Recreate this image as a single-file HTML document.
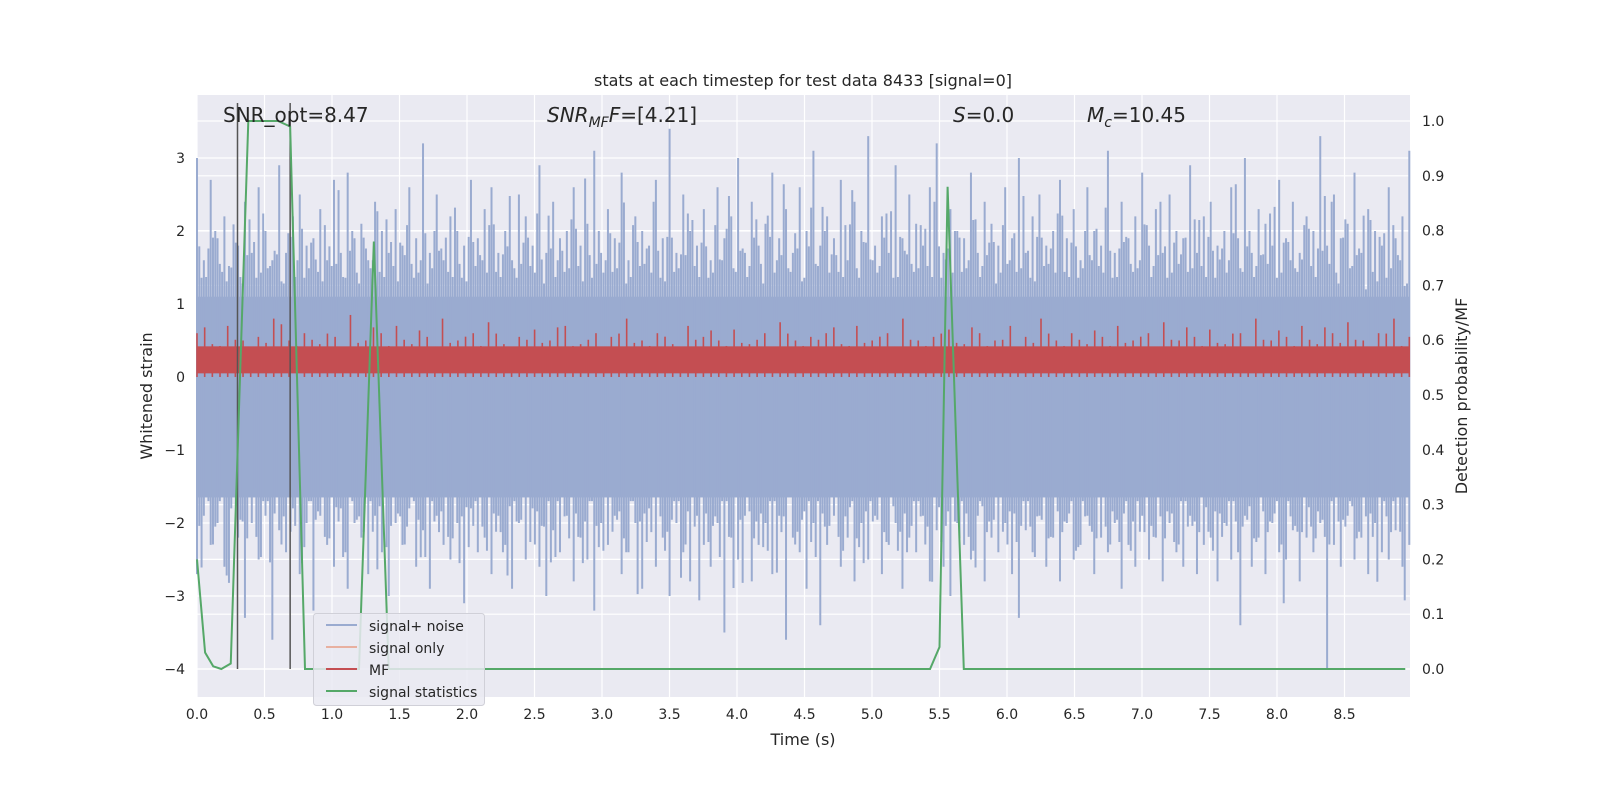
<!DOCTYPE html>
<html><head><meta charset="utf-8">
<style>
html,body{margin:0;padding:0;overflow:hidden;background:#fff;}
#wrap{position:relative;width:1600px;height:800px;transform-origin:0 0;}
svg{position:absolute;left:0;top:0;font-family:"DejaVu Sans","Liberation Sans",sans-serif;}
</style></head>
<body>
<div id="wrap">
<svg id="chart" width="1600" height="800" viewBox="0 0 1600 800"></svg>
<svg width="1600" height="800" font-family="DejaVu Sans, Liberation Sans, sans-serif">
<text x="803" y="86" text-anchor="middle" font-size="16" fill="#262626">stats at each timestep for test data 8433 [signal=0]</text>
<text x="803" y="745" text-anchor="middle" font-size="16" fill="#262626">Time (s)</text>
<text transform="translate(152,396) rotate(-90)" text-anchor="middle" font-size="16" fill="#262626">Whitened strain</text>
<text transform="translate(1467,396) rotate(-90)" text-anchor="middle" font-size="16" fill="#262626">Detection probability/MF</text>
<text x="223" y="122" font-size="20" fill="#262626">SNR_opt=8.47</text>
<text x="547" y="122" font-size="20" fill="#262626"><tspan font-style="italic">SNR</tspan><tspan font-style="italic" font-size="14" dy="5">MF</tspan><tspan font-style="italic" dy="-5">F</tspan>=[4.21]</text>
<text x="953" y="122" font-size="20" fill="#262626"><tspan font-style="italic">S</tspan>=0.0</text>
<text x="1087" y="122" font-size="20" fill="#262626"><tspan font-style="italic">M</tspan><tspan font-style="italic" font-size="14" dy="5">c</tspan><tspan dy="-5">=10.45</tspan></text>
<g>
<rect x="313.5" y="613.5" width="171" height="92" rx="3" fill="#eaeaf2" fill-opacity="0.85" stroke="#d0d0d8"/>
<line x1="326" x2="357" y1="625" y2="625" stroke="#9aabd0" stroke-width="2"/>
<text x="369" y="631" font-size="14" fill="#262626">signal+ noise</text>
<line x1="326" x2="357" y1="647" y2="647" stroke="#e8b0a0" stroke-width="2"/>
<text x="369" y="653" font-size="14" fill="#262626">signal only</text>
<line x1="326" x2="357" y1="669" y2="669" stroke="#c44e52" stroke-width="2"/>
<text x="369" y="675" font-size="14" fill="#262626">MF</text>
<line x1="326" x2="357" y1="691" y2="691" stroke="#55a868" stroke-width="2"/>
<text x="369" y="697" font-size="14" fill="#262626">signal statistics</text>
</g>
</svg>
</div>
<script>
// ---- data ----
const noiseUpper = [3.0,1.6,2.7,1.9,2.2,1.5,1.8,2.4,1.7,2.6,2.0,1.6,2.9,1.7,2.2,2.5,1.8,1.9,2.3,1.6,2.7,1.7,2.8,1.9,2.1,1.6,2.4,2.0,1.7,2.3,1.8,2.6,1.9,3.2,1.7,2.5,1.6,2.2,2.0,1.8,2.7,1.9,2.3,2.6,1.7,2.0,1.6,2.5,2.2,1.8,2.9,1.7,2.4,1.9,2.0,2.6,1.8,2.1,3.1,1.7,2.3,1.9,2.8,1.6,2.2,2.0,1.8,2.7,1.9,3.4,1.7,2.5,2.0,1.8,2.3,1.6,2.6,1.9,2.2,3.0,1.7,2.4,1.8,2.1,2.8,1.9,2.3,1.7,2.6,2.0,3.1,1.8,2.2,1.9,2.7,1.6,2.4,2.0,3.3,1.8,2.2,1.7,2.9,1.9,2.5,2.1,1.8,2.6,3.2,1.7,2.3,2.0,1.9,2.8,1.7,2.4,2.1,1.8,2.6,1.9,3.0,1.7,2.2,2.5,1.8,2.0,2.7,1.9,2.3,1.6,2.6,2.0,1.8,3.1,1.7,2.4,1.9,2.2,2.8,1.8,2.3,1.7,2.5,2.0,1.9,2.9,1.7,2.2,2.4,1.8,2.0,2.6,1.9,3.0,1.7,2.3,2.1,1.8,2.7,1.9,2.4,1.7,2.2,2.0,3.3,1.8,2.5,1.9,2.1,2.8,1.7,2.3,2.0,1.8,2.6,1.9,2.2,3.1];
const noiseLower = [-2.7,-1.9,-2.3,-2.0,-2.6,-1.8,-2.2,-3.3,-2.0,-2.5,-1.9,-3.6,-2.1,-2.4,-1.8,-2.7,-2.0,-3.2,-1.9,-2.3,-2.6,-1.8,-2.9,-2.0,-2.2,-2.7,-1.9,-2.4,-3.0,-2.0,-2.3,-1.8,-2.6,-2.1,-2.9,-1.9,-2.3,-2.5,-2.0,-3.1,-1.8,-2.4,-2.2,-2.7,-1.9,-2.3,-2.9,-2.0,-2.5,-1.8,-2.6,-3.0,-2.1,-2.4,-1.9,-2.8,-2.2,-2.5,-3.2,-2.0,-2.3,-1.9,-2.7,-2.4,-2.0,-2.9,-1.8,-2.6,-2.2,-3.0,-2.0,-2.4,-2.8,-1.9,-2.3,-2.6,-2.0,-3.5,-2.2,-2.5,-1.9,-2.8,-2.3,-2.0,-2.7,-1.9,-3.6,-2.2,-2.4,-2.9,-2.0,-3.4,-2.3,-1.9,-2.6,-2.2,-2.8,-2.0,-2.5,-1.9,-2.7,-2.3,-2.0,-2.9,-2.2,-2.4,-1.9,-2.8,-2.1,-2.6,-3.0,-2.0,-2.3,-2.5,-1.9,-2.8,-2.2,-2.4,-2.0,-2.7,-3.3,-2.1,-2.4,-1.9,-2.6,-2.2,-2.8,-2.0,-2.5,-2.3,-1.9,-2.7,-2.2,-2.4,-2.0,-2.9,-2.3,-2.6,-1.9,-2.5,-2.2,-2.8,-2.0,-2.4,-2.6,-1.9,-2.7,-2.3,-2.2,-2.8,-2.0,-2.5,-2.4,-1.9,-2.6,-2.2,-2.7,-2.0,-2.4,-2.5,-2.1,-2.8,-2.2,-2.4,-2.0,-4.0,-2.3,-2.6,-1.9,-2.5,-2.2,-2.7,-2.0,-2.4,-2.5,-2.1,-2.6,-2.3,-1.9];
const mfPeaks = [0.6,0.45,0.7,0.5,0.55,0.8,0.5,0.6,0.45,0.55,0.85,0.5,0.6,0.7,0.45,0.55,0.8,0.5,0.6,0.75,0.45,0.55,0.65,0.5,0.7,0.45,0.6,0.55,0.8,0.5,0.6,0.45,0.7,0.55,0.5,0.65,0.45,0.6,0.75,0.5,0.55,0.6,0.45,0.7,0.5,0.6,0.8,0.5,0.55,0.65,0.45,0.6,0.5,0.7,0.55,0.8,0.5,0.6,0.45,0.55,0.7,0.5,0.6,0.75,0.5,0.55,0.65,0.45,0.6,0.8,0.5,0.55,0.7,0.45,0.6,0.75,0.5,0.6,0.8,0.55];
const statTimes = [0.0,0.06,0.12,0.18,0.25,0.38,0.5,0.6,0.69,0.8,0.9,1.0,1.1,1.2,1.31,1.42,1.5,2.0,3.0,4.0,5.0,5.43,5.5,5.56,5.68,6.0,7.0,8.0,8.95];
const statValues = [0.2,0.03,0.005,0.0,0.01,1.0,1.0,1.0,0.99,0.0,0.0,0.0,0.0,0.0,0.78,0.0,0.0,0.0,0.0,0.0,0.0,0.0,0.04,0.88,0.0,0.0,0.0,0.0,0.0];
const vlineTimes = [0.3,0.69];
const xTicks = [0,0.5,1,1.5,2,2.5,3,3.5,4,4.5,5,5.5,6,6.5,7,7.5,8,8.5];
const yTicks = [-4,-3,-2,-1,0,1,2,3];
const y2Ticks = [0,0.1,0.2,0.3,0.4,0.5,0.6,0.7,0.8,0.9,1.0];

// compensate if viewport differs from 1600 wide
(function(){const w=window.innerWidth;if(w&&Math.abs(w-1600)>2&&w>1600){document.getElementById('wrap').style.transform='scale('+(w/1600)+')';}})();

// ---- axes ----
const L=197,R=1410,T=95,B=697;
const X=t=>197+t*135;
const Y=v=>377-v*73;
const Y2=p=>669-p*548;
const svg=document.getElementById('chart');
const NS='http://www.w3.org/2000/svg';
function mk(tag,attrs,parent){const e=document.createElementNS(NS,tag);for(const k in attrs)e.setAttribute(k,attrs[k]);(parent||svg).appendChild(e);return e;}

const bg=mk('rect',{x:L,y:T,width:R-L,height:B-T,fill:'#eaeaf2'});



const grid=mk('g',{stroke:'#fff','stroke-width':1.2});


xTicks.forEach(t=>mk('line',{x1:X(t),x2:X(t),y1:T,y2:B},grid));
yTicks.forEach(v=>mk('line',{x1:L,x2:R,y1:Y(v),y2:Y(v)},grid));
y2Ticks.forEach(p=>mk('line',{x1:L,x2:R,y1:Y2(p),y2:Y2(p)},grid));

// noise
const ng=mk('g',{stroke:'#9aabd0','stroke-width':2});


mk('rect',{x:L,y:Y(1.1),width:R-L,height:Y(-1.65)-Y(1.1),fill:'#9aabd0',stroke:'none'},ng);
const N=noiseUpper.length;
const dt=8.98/(N-1);
for(let i=0;i<N;i++){
  const t=i*dt;
  mk('line',{x1:X(t),x2:X(t),y1:Y(noiseUpper[i]),y2:Y(noiseLower[i])},ng);
  const j=(i+7)%N, k=(i+13)%N;
  if(t+dt/3<8.99) mk('line',{x1:X(t+dt/3),x2:X(t+dt/3),y1:Y(0.35+noiseUpper[j]*0.6),y2:Y(noiseLower[k]*0.85)},ng);
  if(t+2*dt/3<8.99) mk('line',{x1:X(t+2*dt/3),x2:X(t+2*dt/3),y1:Y(noiseUpper[k]*0.8),y2:Y(-0.3+noiseLower[j]*0.7)},ng);
}
// MF
const mg=mk('g',{stroke:'#c44e52','stroke-width':1.6});


mk('rect',{x:L,y:Y(0.42),width:R-L,height:Y(0.05)-Y(0.42),fill:'#c44e52',stroke:'none'},mg);
const M=mfPeaks.length;
for(let i=0;i<M;i++){const t=i*8.98/(M-1);mk('line',{x1:X(t),x2:X(t),y1:Y(mfPeaks[i]),y2:Y(0)},mg);
  const t2=t+8.98/(M-1)/2; if(t2<8.99) mk('line',{x1:X(t2),x2:X(t2),y1:Y(mfPeaks[(i+5)%M]*0.85),y2:Y(0.0)},mg);}

// vertical lines
vlineTimes.forEach((t,i)=>{const l=mk('line',{x1:X(t),x2:X(t),y1:T+8,y2:Y(-4),stroke:'#555','stroke-width':1.5});

});

// stats
const sp=mk('polyline',{points:statTimes.map((t,i)=>X(t)+','+Y2(statValues[i])).join(' '),fill:'none',stroke:'#55a868','stroke-width':2});



// tick labels
const tl=mk('g',{fill:'#262626','font-size':14});


xTicks.forEach(t=>{mk('text',{x:X(t),y:B+22,'text-anchor':'middle'},tl).textContent=t.toFixed(1);});
yTicks.forEach(v=>{mk('text',{x:L-12,y:Y(v)+5,'text-anchor':'end'},tl).textContent=(v<0?'\u2212'+(-v):v);});
y2Ticks.forEach(p=>{mk('text',{x:R+12,y:Y2(p)+5},tl).textContent=p.toFixed(1);});
</script>
</body></html>
